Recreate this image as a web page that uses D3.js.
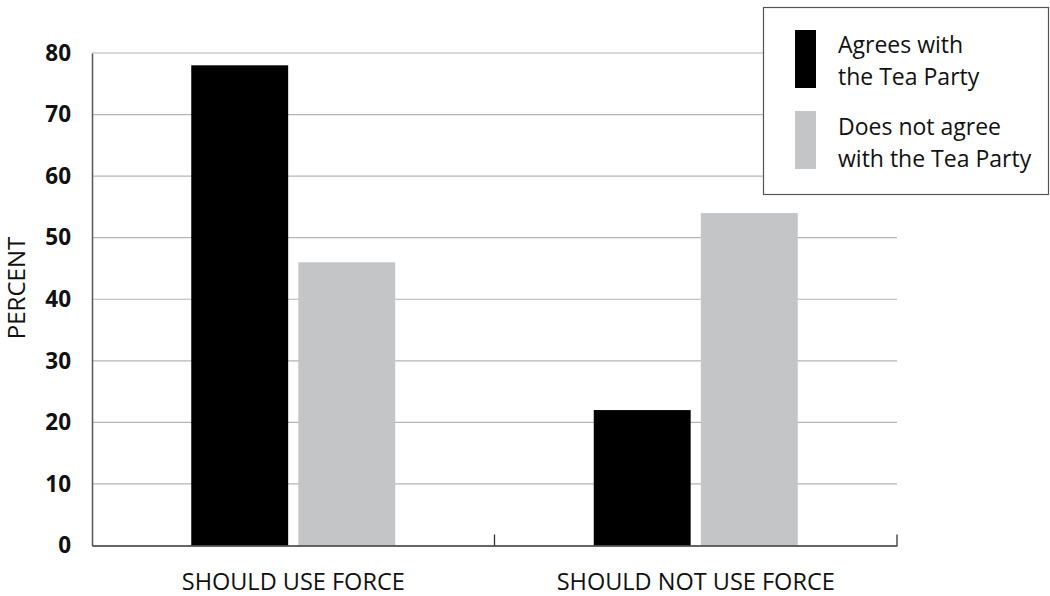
<!DOCTYPE html>
<html><head><meta charset="utf-8">
<script src="https://cdn.jsdelivr.net/npm/d3@7"></script>
<style>body{margin:0;background:#fff}svg{display:block}text{font-family:"Open Sans",sans-serif}</style>
</head><body><svg id="c" width="1050" height="596"></svg>
<script>
const categories = ["SHOULD USE FORCE", "SHOULD NOT USE FORCE"];
const seriesNames = ["Agrees with the Tea Party", "Does not agree with the Tea Party"];
const agrees = [78, 22];
const disagrees = [46, 54];
const yTicks = [0, 10, 20, 30, 40, 50, 60, 70, 80];
const legendLines = [["Agrees with", "the Tea Party"], ["Does not agree", "with the Tea Party"]];
const colors = ["#000000", "#c4c5c7"];

const svg = d3.select("#c");
const mLeft = 92, mRight = 897, mTop = 53, mBottom = 545.5;
const y = d3.scaleLinear().domain([0, 80]).range([mBottom, mTop]);
const x0 = d3.scaleBand().domain(categories).range([mLeft, mRight]).padding(0);
const bw = x0.bandwidth();
const x1 = d3.scaleBand().domain(seriesNames).range([bw/2 - 102, bw/2 + 102]).paddingInner(0.095).paddingOuter(0);

// gridlines
svg.append("g").selectAll("line").data(yTicks.filter(d => d > 0)).join("line")
  .attr("x1", mLeft).attr("x2", mRight).attr("y1", d => y(d)).attr("y2", d => y(d))
  .attr("stroke", "#b4b4b4").attr("stroke-width", 1.2);

// bars
const data = categories.map((c, i) => ({c, vals: [agrees[i], disagrees[i]]}));
const g = svg.append("g").selectAll("g").data(data).join("g")
  .attr("transform", d => `translate(${x0(d.c)},0)`);
g.selectAll("rect").data(d => d.vals.map((v, j) => ({s: seriesNames[j], v, j}))).join("rect")
  .attr("x", d => x1(d.s)).attr("width", x1.bandwidth())
  .attr("y", d => y(d.v)).attr("height", d => y(0) - y(d.v))
  .attr("fill", d => colors[d.j]);

// y axis
const yAxis = svg.append("g").attr("transform", `translate(${mLeft},0)`)
  .call(d3.axisLeft(y).tickValues(yTicks).tickSize(0).tickPadding(21));
yAxis.select(".domain").attr("stroke", "#555").attr("stroke-width", 1.5);
yAxis.selectAll("text").attr("font-size", 22.5).attr("font-weight", 700).attr("fill", "#111")
  .attr("font-family", "'Open Sans',sans-serif");

// x axis
const xAxis = svg.append("g").attr("transform", `translate(0,${mBottom})`)
  .call(d3.axisBottom(x0).tickSize(0).tickPadding(28));
xAxis.select(".domain").attr("stroke", "#333").attr("stroke-width", 1.5);
xAxis.selectAll("text").attr("font-size", 23.5).attr("fill", "#111")
  .attr("font-family", "'Open Sans',sans-serif");
// x boundary ticks
svg.append("g").selectAll("line").data(categories.slice(1).concat(["end"])).join("line")
  .attr("x1", d => d === "end" ? mRight : x0(d)).attr("x2", d => d === "end" ? mRight : x0(d))
  .attr("y1", mBottom).attr("y2", mBottom - 11).attr("stroke", "#333").attr("stroke-width", 1.3);

// y label
svg.append("text").attr("transform", "translate(25,288) rotate(-90)")
  .attr("text-anchor", "middle").attr("font-size", 24).attr("fill", "#111").text("PERCENT");

// legend
const lg = svg.append("g");
lg.append("rect").attr("x", 763.5).attr("y", 7.5).attr("width", 285).attr("height", 187)
  .attr("fill", "#fff").attr("stroke", "#555").attr("stroke-width", 1.2);
const items = lg.selectAll("g.it").data(legendLines).join("g").attr("class", "it")
  .attr("transform", (d, i) => `translate(0,${i * 81})`);
items.append("rect").attr("x", 795).attr("y", 30).attr("width", 21).attr("height", 58)
  .attr("fill", (d, i) => colors[i]);
items.each(function(d, i) {
  d3.select(this).selectAll("text").data(d).join("text")
    .attr("x", 838).attr("y", (t, k) => 53 + i * 1 + k * 32)
    .attr("font-size", 23).attr("fill", "#111").text(t => t);
});
</script></body></html>
